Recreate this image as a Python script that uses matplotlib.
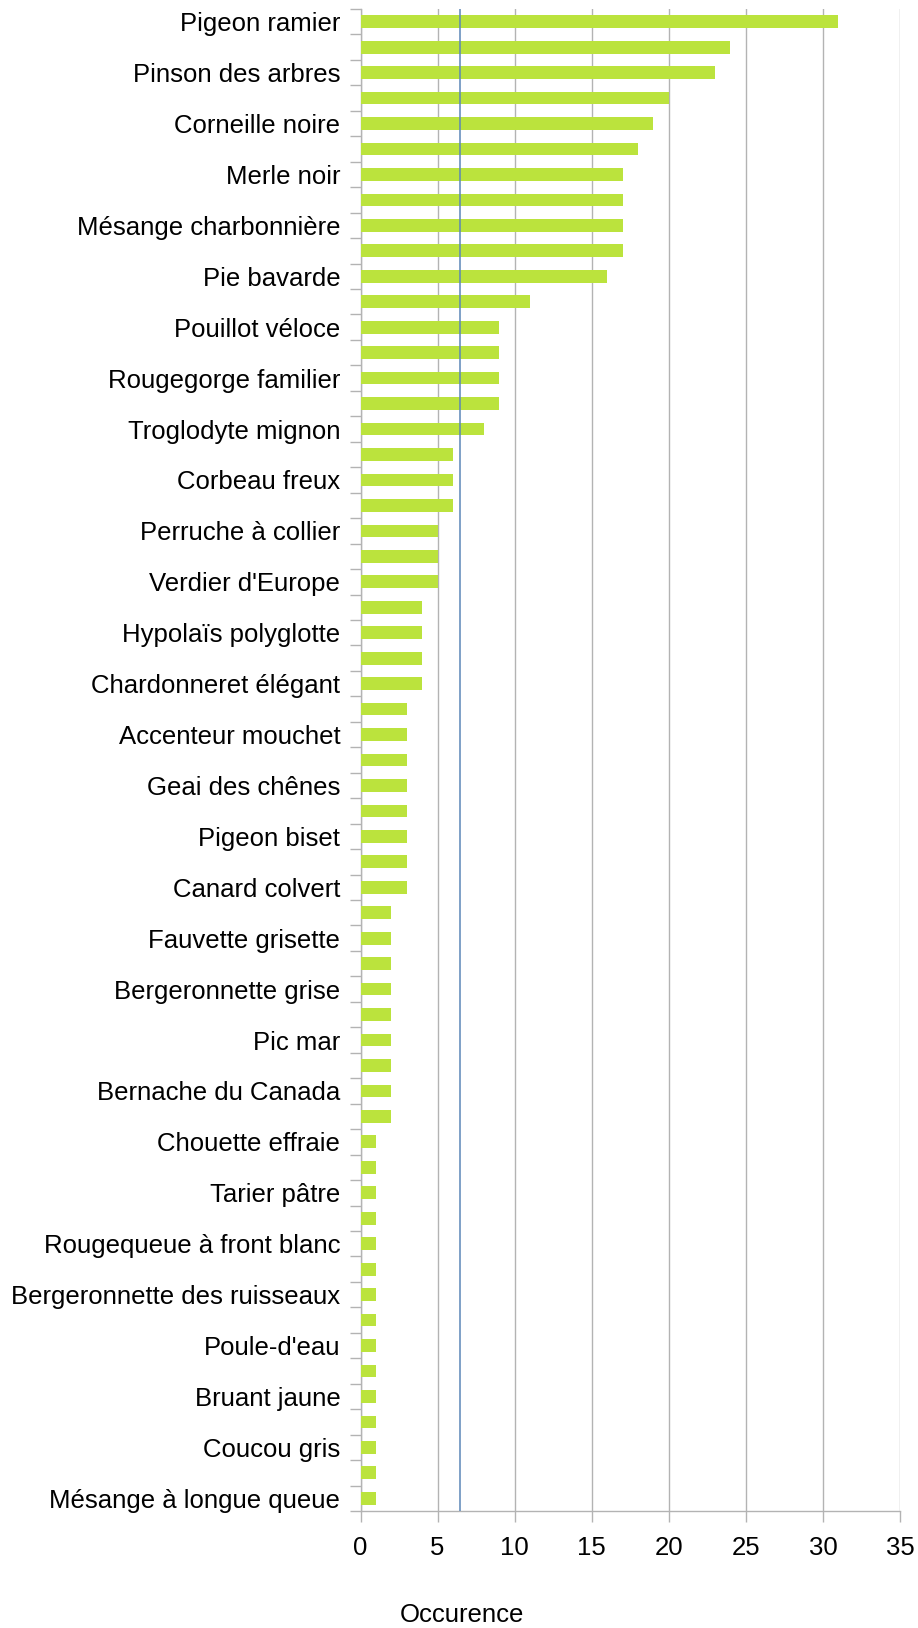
import numpy as np
import matplotlib
matplotlib.use("Agg")
import matplotlib.pyplot as plt

plt.rcParams['font.family'] = ['Liberation Sans', 'DejaVu Sans']

# Espèces étiquetées (une barre sur deux porte un nom)
especes = [
    "Pigeon ramier", "Pinson des arbres", "Corneille noire", "Merle noir",
    "Mésange charbonnière", "Pie bavarde", "Pouillot véloce",
    "Rougegorge familier", "Troglodyte mignon", "Corbeau freux",
    "Perruche à collier", "Verdier d'Europe", "Hypolaïs polyglotte",
    "Chardonneret élégant", "Accenteur mouchet", "Geai des chênes",
    "Pigeon biset", "Canard colvert", "Fauvette grisette",
    "Bergeronnette grise", "Pic mar", "Bernache du Canada",
    "Chouette effraie", "Tarier pâtre", "Rougequeue à front blanc",
    "Bergeronnette des ruisseaux", "Poule-d'eau", "Bruant jaune",
    "Coucou gris", "Mésange à longue queue",
]

# Occurrences, de haut en bas (59 barres)
occurences = [
    31, 24, 23, 20, 19, 18, 17, 17, 17, 17,
    16, 11, 9, 9, 9, 9, 8, 6, 6, 6,
    5, 5, 5, 4, 4, 4, 4, 3, 3, 3,
    3, 3, 3, 3, 3, 2, 2, 2, 2, 2,
    2, 2, 2, 2, 1, 1, 1, 1, 1, 1,
    1, 1, 1, 1, 1, 1, 1, 1, 1,
]

GRIS = '#b3b3b3'
VERT = '#bbe33d'
BLEU = '#5b86b8'
TAILLE = 18.5

n = len(occurences)
pos = np.arange(n)

fig = plt.figure(figsize=(9.18, 16.28), dpi=100)
ax = fig.add_axes([360.5 / 918, 1 - 1511 / 1628, (900 - 360.5) / 918, (1511 - 9) / 1628])

ax.barh(pos, occurences, height=0.5, color=VERT, zorder=3)
ax.axvline(np.mean(occurences), color=BLEU, lw=1.1, zorder=4)

ax.set_xlim(0, 35)
ax.set_ylim(n - 0.5, -0.5)
ax.set_xticks(np.arange(0, 36, 5))
ax.xaxis.grid(True, color=GRIS, lw=1.0, zorder=0)
ax.tick_params(axis='x', length=8, width=1.0, color=GRIS, pad=10, labelsize=TAILLE)

# Graduations aux limites des catégories, noms au centre d'une barre sur deux
ax.set_yticks(np.arange(n + 1) - 0.5)
ax.set_yticklabels([])
ax.set_yticks(pos[::2], minor=True)
ax.set_yticklabels(especes, minor=True)
ax.tick_params(axis='y', which='major', length=8, width=1.0, color=GRIS)
ax.tick_params(axis='y', which='minor', length=0, pad=14.5, labelsize=TAILLE)

for s in ['top', 'right']:
    ax.spines[s].set_visible(False)
for s in ['left', 'bottom']:
    ax.spines[s].set_color(GRIS)
    ax.spines[s].set_linewidth(1.0)

fig.text(462 / 918, 1 - 1615 / 1628, "Occurence", ha='center', va='center', fontsize=TAILLE)

fig.savefig("out.png", dpi=100)
